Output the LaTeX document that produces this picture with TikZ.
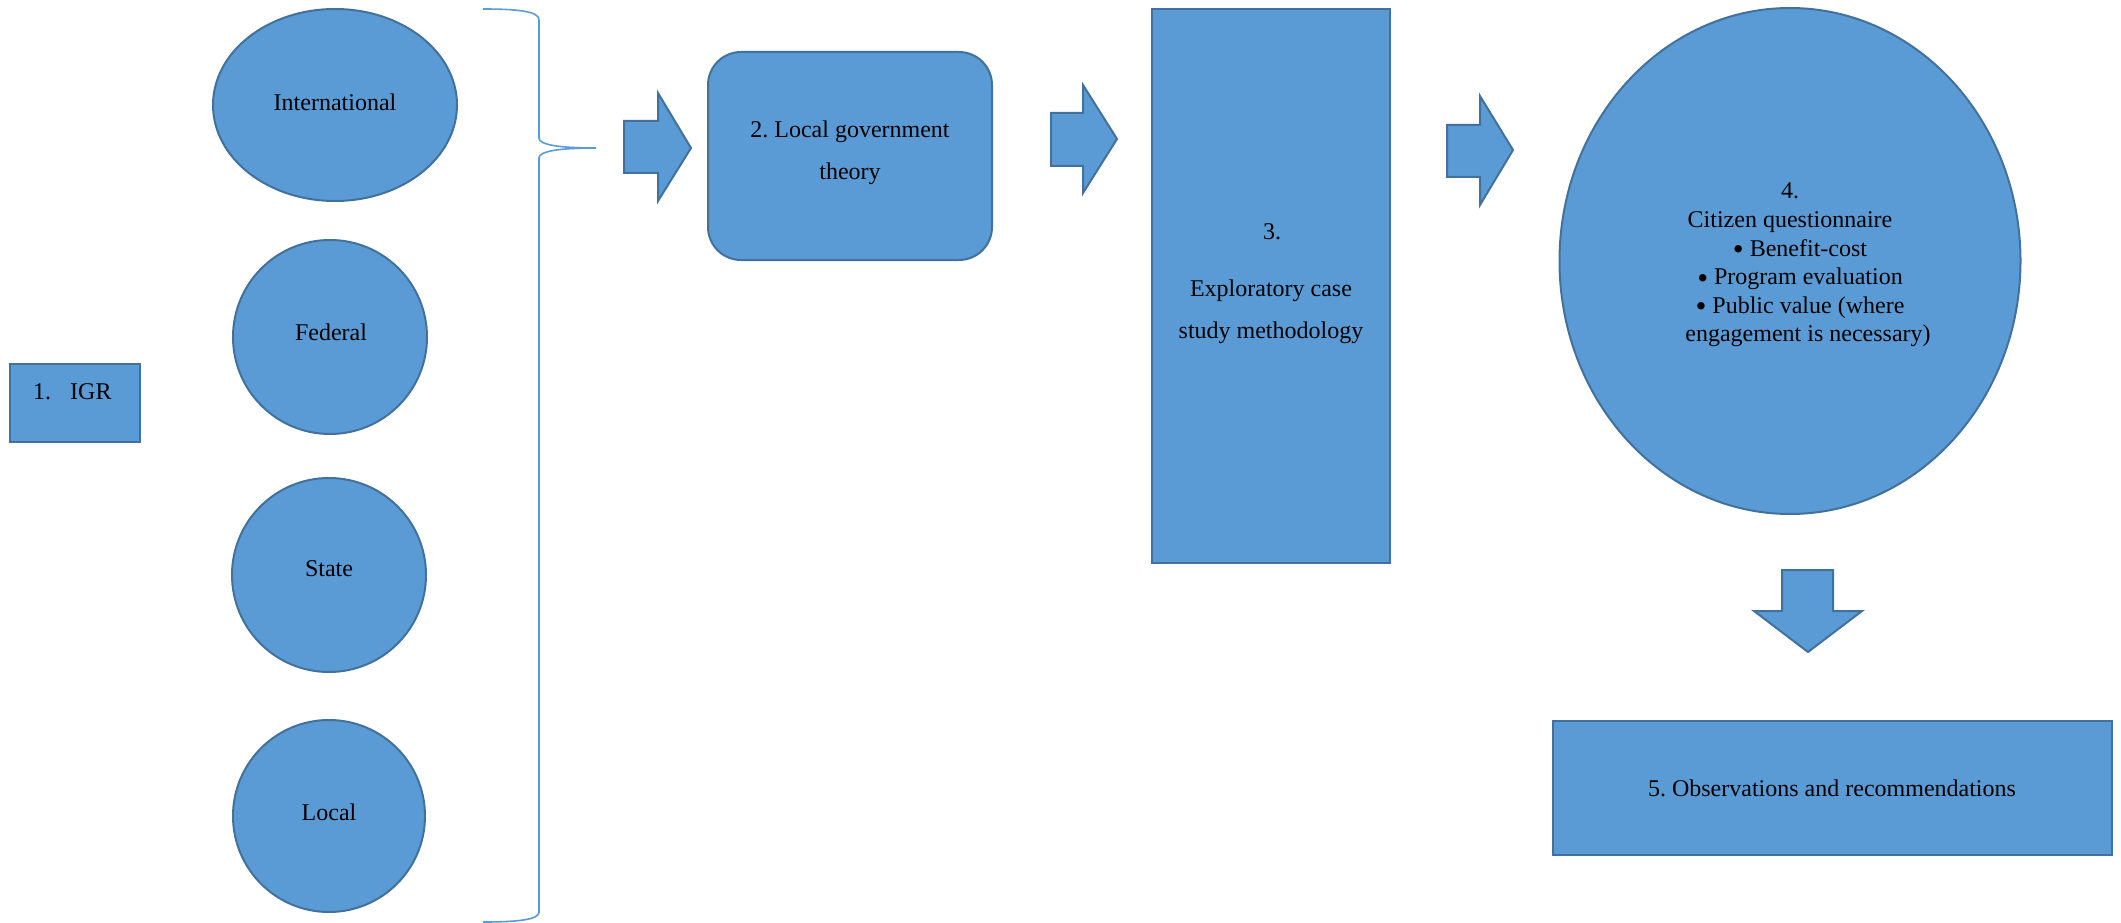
\documentclass[tikz,border=0pt]{standalone}
\usepackage{fontspec}
\setmainfont{Liberation Serif}
\usetikzlibrary{shapes.geometric}
\definecolor{fillblue}{HTML}{5B9BD5}
\definecolor{edgeblue}{HTML}{41719C}
\newcommand{\bigbul}{\raisebox{-3.5pt}{\fontsize{31}{31}\selectfont\textbullet}}
\begin{document}
\frenchspacing
\begin{tikzpicture}[x=1pt,y=-1pt,
  every node/.style={font=\fontsize{24}{29}\selectfont},
  shp/.style={fill=fillblue,draw=edgeblue,line width=2pt},
  circ/.style={shp,circle,minimum size=194pt,inner sep=0pt},
  rectbox/.style={shp,rectangle,inner sep=0pt},
  lbl/.style={inner sep=0pt,align=center},
  blockarrow/.style={shp,line join=miter},
  bracestyle/.style={draw=fillblue,line width=1.6pt}]
\useasboundingbox (0,0) rectangle (2121,923);

% 1. IGR
\node[rectbox,minimum width=130pt,minimum height=78pt] (igr) at (75,403) {};
\node[lbl,anchor=west] (igrt) at (33,392) {1.\hspace{19pt}IGR};

% left column
\node[shp,ellipse,minimum width=244pt,minimum height=192pt,inner sep=0pt] (intl) at (335,105) {};
\node[lbl] (intlt) at (335,102) {International};
\node[circ] (fed) at (330,337) {};
\node[lbl] (fedt) at (331,332) {Federal};
\node[circ] (state) at (329,575) {};
\node[lbl] (statet) at (329,569) {State};
\node[circ,minimum size=192pt] (local) at (329,816) {};
\node[lbl] (localt) at (329,812) {Local};

% brace
\coordinate (bt) at (483,9);
\coordinate (bm) at (596,148);
\coordinate (bb) at (483,922);
\draw[bracestyle] (bt) .. controls (522,9) and (539,12) .. (539,20)
  -- (539,138) .. controls (539,145) and (560,148) .. (bm)
  .. controls (560,148) and (539,151) .. (539,158)
  -- (539,912) .. controls (539,919) and (522,922) .. (bb);

% arrow 1
\draw[blockarrow] (624,121) -- (658,121) -- (658,93) -- (691,148) -- (658,201) -- (658,173) -- (624,173) -- cycle;

% 2. Local government theory
\node[rectbox,rounded corners=33pt,minimum width=284pt,minimum height=208pt] (lgt) at (850,156) {};
\node[lbl,font=\fontsize{24}{42}\selectfont] (lgtt) at (850,153) {2. Local government\\theory};

% arrow 2
\draw[blockarrow] (1051,113) -- (1083,113) -- (1083,85) -- (1117,139) -- (1083,193) -- (1083,166) -- (1051,166) -- cycle;

% 3. Exploratory case study methodology
\node[rectbox,minimum width=238pt,minimum height=553pt] (ecs) at (1271,286) {};
\node[lbl] (ecsn) at (1272,232) {3.};
\node[lbl,font=\fontsize{24}{42}\selectfont] (ecst) at (1271,312) {Exploratory case\\study methodology};

% arrow 3
\draw[blockarrow] (1447,125) -- (1480,125) -- (1480,96) -- (1513,150) -- (1480,205) -- (1480,177) -- (1447,177) -- cycle;

% 4. Citizen questionnaire
\node[shp,ellipse,minimum width=461pt,minimum height=506pt,inner sep=0pt] (cq) at (1790,261) {};
\node[lbl,font=\fontsize{24}{28.6}\selectfont] (cqt) at (1790,265)
  {4.\\
   Citizen questionnaire\\
   \hspace*{20pt}\bigbul\hspace{6pt}Benefit-cost\\
   \hspace*{20pt}\bigbul\hspace{6pt}Program evaluation\\
   \hspace*{20pt}\bigbul\hspace{6pt}Public value (where\\
   \hspace*{36pt}engagement is necessary)};

% down arrow
\draw[blockarrow] (1782,570) -- (1833,570) -- (1833,611) -- (1862,611) -- (1808,652) -- (1754,611) -- (1782,611) -- cycle;

% 5. Observations and recommendations
\node[rectbox,minimum width=559pt,minimum height=134pt] (obs) at (1832,788) {};
\node[lbl] (obst) at (1832,788) {5. Observations and recommendations};
\end{tikzpicture}
\end{document}
